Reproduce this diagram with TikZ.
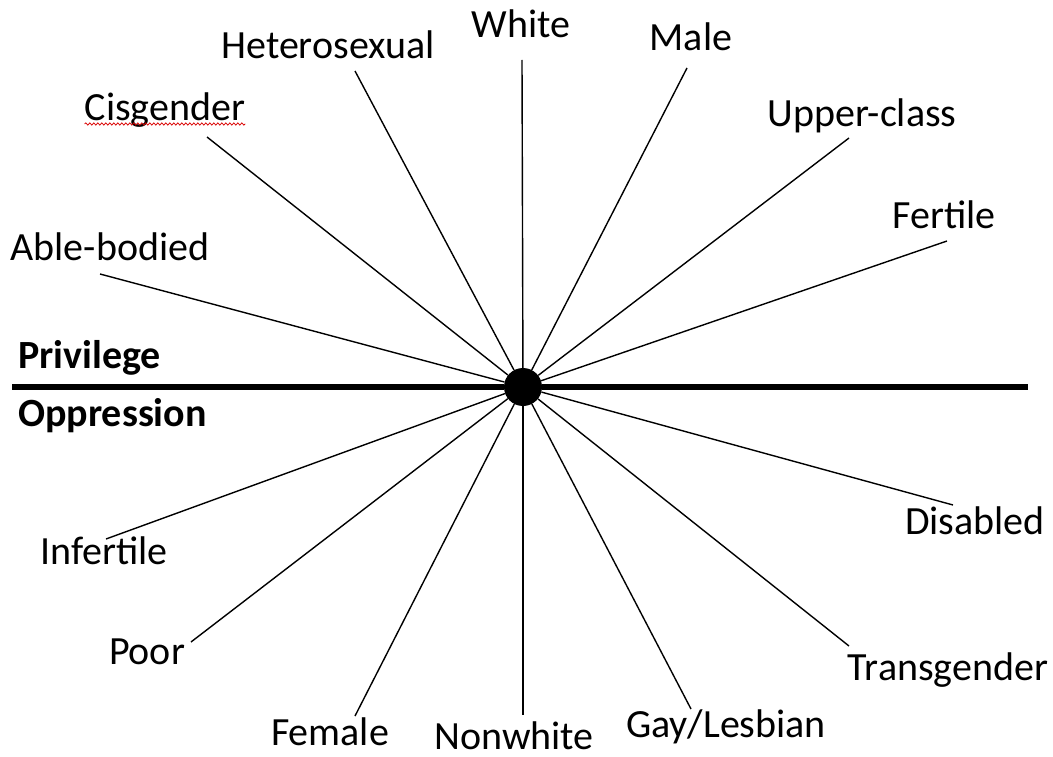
\documentclass[tikz,border=0pt]{standalone}
\usepackage{fontspec}
\setmainfont{Carlito}
\usetikzlibrary{decorations.pathmorphing}
\begin{document}
\begin{tikzpicture}[x=1pt,y=-1pt,
  lbl/.style={anchor=base,inner sep=0pt,font=\fontsize{40}{48}\selectfont},
  side/.style={anchor=base west,inner sep=0pt,font=\fontsize{40}{48}\selectfont\bfseries},
  spoke/.style={line width=1.4pt,black},
  divider/.style={line width=6pt,black},
  hub/.style={circle,fill=black,minimum size=38pt,inner sep=0pt}]
\useasboundingbox (0,0) rectangle (1053,757);
\node[hub] (c) at (523,387) {};
% outer ends of spokes
\coordinate (eWhite) at (522,60);
\coordinate (eHetero) at (355,71);
\coordinate (eMale) at (687,68);
\coordinate (eCis) at (207,137);
\coordinate (eUpper) at (849,138);
\coordinate (eAble) at (100,274);
\coordinate (eFertile) at (947,241);
\coordinate (eInfertile) at (106,539);
\coordinate (ePoor) at (191,642);
\coordinate (eFemale) at (355,716);
\coordinate (eNonwhite) at (523,715);
\coordinate (eGay) at (691,709);
\coordinate (eTrans) at (849,646);
\coordinate (eDisabled) at (953,505);
\coordinate (L) at (12,387);
\coordinate (R) at (1028,387);
% labels
\node[lbl] (white) at (521,38) {White};
\node[lbl] (hetero) at (328,59) {Heterosexual};
\node[lbl] (male) at (691,51) {Male};
\node[lbl] (cis) at (165,121) {Cisgender};
\node[lbl] (upper) at (862,127) {Upper-class};
\node[lbl] (able) at (110,260) {Able-bodied};
\node[lbl] (fertile) at (944,229) {Fertile};
\node[side] (priv) at (18,368) {Privilege};
\node[side] (opp) at (18,426) {Oppression};
\node[lbl] (infertile) at (104,564) {Infertile};
\node[lbl] (poor) at (147,664) {Poor};
\node[lbl] (female) at (330,745) {Female};
\node[lbl] (nonwhite) at (514,749) {Nonwhite};
\node[lbl] (disabled) at (975,534) {Disabled};
\node[lbl] (trans) at (948,680) {Transgender};
\node[lbl] (gay) at (726,737) {Gay/Lesbian};
% spell-check underline
\draw[red!85!black,line width=0.8pt,decorate,decoration={snake,amplitude=1.1pt,segment length=4pt}]
  ([yshift=-3pt]cis.base west) -- ([yshift=-3pt]cis.base east);
% divider
\draw[divider] (L) -- (c) -- (R);
% spokes
\foreach \e in {eWhite,eHetero,eMale,eCis,eUpper,eAble,eFertile,eInfertile,ePoor,eFemale,eNonwhite,eGay,eTrans,eDisabled}
  \draw[spoke] (c) -- (\e);
\end{tikzpicture}
\end{document}
